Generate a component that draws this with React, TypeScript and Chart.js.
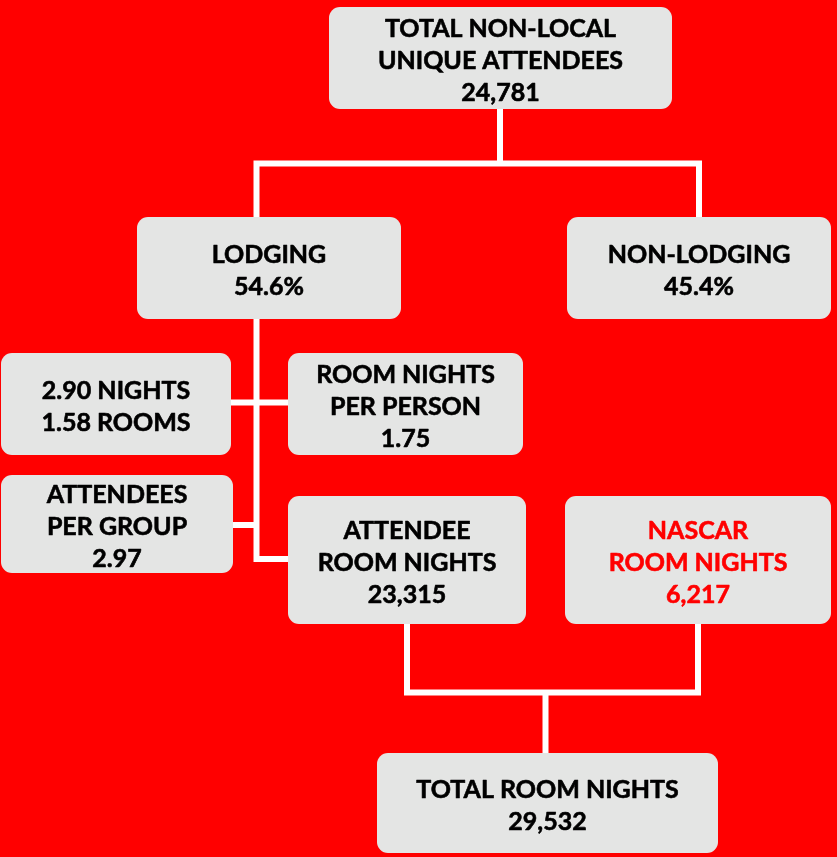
import React, { useEffect, useRef } from "react";
import { Chart, registerables } from "chart.js";

Chart.register(...registerables);

// ---------- DATA ----------
const nodeTitles = [
  "TOTAL NON-LOCAL\nUNIQUE ATTENDEES",
  "LODGING",
  "NON-LODGING",
  "",
  "ROOM NIGHTS\nPER PERSON",
  "ATTENDEES\nPER GROUP",
  "ATTENDEE\nROOM NIGHTS",
  "NASCAR\nROOM NIGHTS",
  "TOTAL ROOM NIGHTS",
];
const nodeValues = [
  "24,781",
  "54.6%",
  "45.4%",
  "2.90 NIGHTS\n1.58 ROOMS",
  "1.75",
  "2.97",
  "23,315",
  "6,217",
  "29,532",
];
const highlightedNodes = [7];

// ---------- LAYOUT (diagram units) ----------
const W = 837;
const H = 857;
// [left, right, top, bottom]
const boxLayout: number[][] = [
  [329, 672, 7, 109],
  [137, 401, 217, 319],
  [567, 831, 217, 319],
  [1, 231, 353, 455],
  [288, 523, 353, 455],
  [1, 233, 475, 573],
  [288, 526, 496, 624],
  [565, 831, 496, 624],
  [377, 718, 753, 853],
];
const connectorPaths: number[][][] = [
  [[500, 109], [500, 163.5]],
  [[256.5, 217], [256.5, 163.5], [699, 163.5], [699, 217]],
  [[256.5, 319], [256.5, 559], [288, 559]],
  [[231, 402.5], [288, 402.5]],
  [[233, 525], [256.5, 525]],
  [[407, 624], [407, 692.5], [698, 692.5], [698, 624]],
  [[545.5, 692.5], [545.5, 753]],
];

const BG = "#ff0000";
const BOX_FILL = "#e4e5e4";
const TEXT_COLOR = "#000000";
const HIGHLIGHT_COLOR = "#ff0000";
const FONT = "bold 25px Lato";
const LINE_H = 32;
const CAP_H = 18;

const boxesPlugin = {
  id: "boxes",
  beforeDraw(chart: any) {
    const ctx = chart.ctx;
    ctx.save();
    ctx.fillStyle = BG;
    ctx.fillRect(0, 0, chart.width, chart.height);
    ctx.restore();
  },
  afterDatasetsDraw(chart: any) {
    const ctx = chart.ctx;
    const xs = chart.scales.x;
    const ys = chart.scales.y;
    ctx.save();
    boxLayout.forEach((b, i) => {
      const x0 = xs.getPixelForValue(b[0]);
      const x1 = xs.getPixelForValue(b[1]);
      const y0 = ys.getPixelForValue(b[2]);
      const y1 = ys.getPixelForValue(b[3]);
      ctx.beginPath();
      ctx.fillStyle = BOX_FILL;
      (ctx as any).roundRect(x0, y0, x1 - x0, y1 - y0, 11);
      ctx.fill();

      const lines = (nodeTitles[i] ? nodeTitles[i].split("\n") : []).concat(
        nodeValues[i].split("\n")
      );
      const cx = (x0 + x1) / 2;
      const cy = (y0 + y1) / 2 + 2;
      ctx.font = FONT;
      ctx.textAlign = "center";
      ctx.textBaseline = "alphabetic";
      const color = highlightedNodes.includes(i) ? HIGHLIGHT_COLOR : TEXT_COLOR;
      ctx.fillStyle = color;
      ctx.strokeStyle = color;
      ctx.lineWidth = 0.6;
      ctx.lineJoin = "round";
      const n = lines.length;
      lines.forEach((ln, k) => {
        const lc = cy + (k - (n - 1) / 2) * LINE_H;
        ctx.fillText(ln, cx, lc + CAP_H / 2);
        ctx.strokeText(ln, cx, lc + CAP_H / 2);
      });
    });
    ctx.restore();
  },
};

export default function App() {
  const ref = useRef<HTMLCanvasElement | null>(null);
  useEffect(() => {
    document.body.style.margin = "0";
    const canvas = ref.current;
    if (!canvas) return;
    const chart = new Chart(canvas, {
      type: "scatter",
      data: {
        datasets: connectorPaths.map((p) => ({
          data: p.map(([x, y]) => ({ x, y })),
          showLine: true,
          borderColor: "#ffffff",
          borderWidth: 6,
          pointRadius: 0,
          pointHoverRadius: 0,
          borderJoinStyle: "miter" as const,
          borderCapStyle: "butt" as const,
          tension: 0,
          fill: false,
          clip: false as any,
        })),
      },
      options: {
        responsive: false,
        maintainAspectRatio: false,
        animation: false,
        events: [],
        layout: { padding: 0 },
        plugins: {
          legend: { display: false },
          tooltip: { enabled: false },
        },
        scales: {
          x: { type: "linear", min: 0, max: W, display: false },
          y: { type: "linear", min: 0, max: H, reverse: true, display: false },
        },
      },
      plugins: [boxesPlugin],
    });
    return () => chart.destroy();
  }, []);
  return (
    <div style={{ width: W, height: H }}>
      <canvas ref={ref} width={W} height={H} style={{ display: "block" }} />
    </div>
  );
}
